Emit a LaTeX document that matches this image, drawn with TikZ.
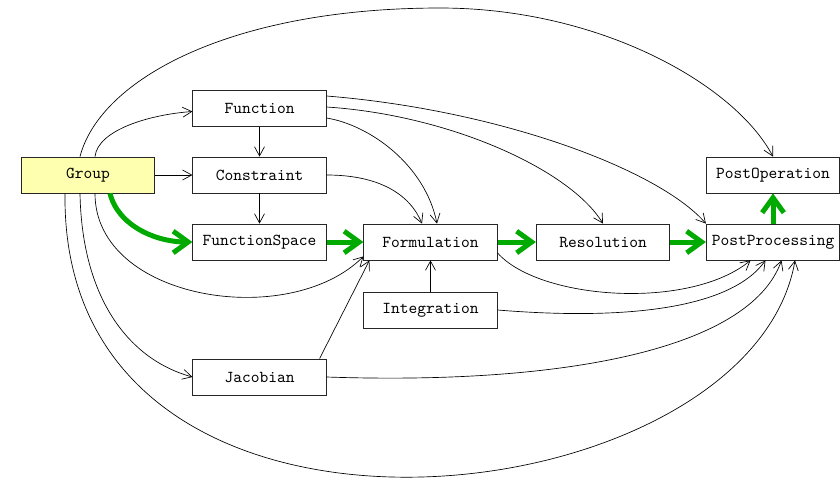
\documentclass[tikz,border=0pt]{standalone}
\usepackage{tikz}
\usetikzlibrary{arrows.meta,calc}
\definecolor{groupcolor}{RGB}{255,255,176}
\definecolor{flowcolor}{RGB}{0,170,0}

\begin{document}
\begin{tikzpicture}[x=0.6pt, y=-0.6pt,
  box/.style={draw=black!85, line width=0.5pt, minimum width=80pt, minimum height=21.6pt, inner sep=0pt, font=\ttfamily},
  dep/.style={line width=0.4pt, -{Straight Barb[length=5.5pt,width=6pt]}},
  mainflow/.style={draw=flowcolor, line width=3pt, -{Straight Barb[length=9pt,width=13pt]}}]
  \useasboundingbox (0,0) rectangle (840,480);

  % objects of the problem definition
  \node[box, fill=groupcolor] (group) at (88,175) {Group};
  \node[box] (function) at (259.5,108.5) {Function};
  \node[box] (constraint) at (259.5,175) {Constraint};
  \node[box] (fspace) at (259.5,242) {FunctionSpace};
  \node[box] (jacobian) at (259.5,377) {Jacobian};
  \node[box] (formulation) at (430.5,242) {Formulation};
  \node[box] (integration) at (430.5,310) {Integration};
  \node[box] (resolution) at (603,242) {Resolution};
  \node[box] (postpro) at (773,242) {PostProcessing};
  \node[box] (postop) at (773,175) {PostOperation};

  % main chain
  \draw[mainflow] ($(group.south)+(22,0)$) .. controls +(8,32) and +(-37,0) .. (fspace.west);
  \draw[mainflow] (fspace) -- (formulation);
  \draw[mainflow] (formulation) -- (resolution);
  \draw[mainflow] (resolution) -- (postpro);
  \draw[mainflow] (postpro) -- (postop);

  % dependencies from Group
  \draw[dep] (group) -- (constraint);
  \draw[dep] ($(group.north)+(7,0)$) .. controls +(3,-27) and +(-42,3) .. ($(function.west)+(0,3)$);
  \draw[dep] ($(group.north)+(-8,0)$) .. controls +(20,-77) and +(-210,0) .. (440,8)
    .. controls +(160,0) and +(-38,-72) .. (postop.north);
  \draw[dep] ($(group.south)+(7,0)$) .. controls +(0,107) and +(-74,74) .. ($(formulation.south west)+(0,-4)$);
  \draw[dep] ($(group.south)+(-8,0)$) .. controls +(2,107) and +(-62,-17) .. (jacobian.west);
  \draw[dep] ($(group.south)+(-23,0)$) .. controls +(-5,407) and +(-45,260) .. ($(postpro.south)+(22,0)$);

  % other dependencies
  \draw[dep] (function) -- (constraint);
  \draw[dep] (constraint) -- (fspace);
  \draw[dep] ($(function.east)+(0,9.5)$) .. controls +(43,7) and +(-12,-59) .. ($(formulation.north)+(6.5,0)$);
  \draw[dep] ($(function.east)+(0,-1.5)$) .. controls +(123,8) and +(-33,-54) .. (resolution.north);
  \draw[dep] ($(function.east)+(0,-12.5)$) .. controls +(173,14) and +(-47,-54) .. (postpro.north west);
  \draw[dep] (constraint.east) .. controls +(53,0) and +(-12,-29) .. ($(formulation.north)+(-8.5,0)$);
  \draw[dep] (integration) -- (formulation);
  \draw[dep] ($(jacobian.north east)+(-7,0)$) -- ($(formulation.south west)+(6,0)$);
  \draw[dep] ($(formulation.east)+(0,11)$) .. controls +(42,47) and +(-61,50) .. ($(postpro.south)+(-22.5,0)$);
  \draw[dep] (integration.east) .. controls +(122,10) and +(-36,50) .. ($(postpro.south)+(-7.5,0)$);
  \draw[dep] (jacobian.east) .. controls +(233,8) and +(-32,90) .. ($(postpro.south)+(8.5,0)$);
\end{tikzpicture}
\end{document}
